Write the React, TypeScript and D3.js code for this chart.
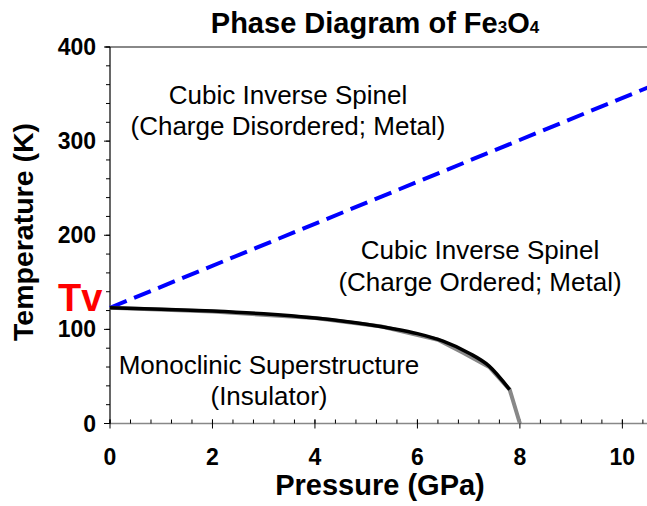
import React from "react";
import * as d3 from "d3";

const xTicks = [0, 2, 4, 6, 8, 10];
const yTicks = [0, 100, 200, 300, 400];
// Dashed boundary (charge disordered / ordered)
const dashedP = [0, 10.5];
const dashedT = [123, 357];
// Gray measured boundary
const grayP = [0, 2, 4, 5.3, 6.4, 6.9, 7.4, 7.8, 8.0];
const grayT = [123, 119, 112, 103, 89, 75, 60, 36, 0];
// Black fitted boundary
const blackP = [0, 1, 2, 3, 4, 5, 5.5, 6, 6.5, 7, 7.4, 7.8];
const blackT = [123, 121.5, 119.5, 116.5, 112, 105.5, 101, 95.5, 87.5, 75, 61, 36];

const W = 647, H = 506;
const font = "'Liberation Sans', Arial, sans-serif";

export default function App() {
  const x = d3.scaleLinear().domain([0, 10.5]).range([110, 648]);
  const y = d3.scaleLinear().domain([0, 400]).range([423.5, 47]);
  const line = d3.line<[number, number]>().x(d => x(d[0])).y(d => y(d[1]));
  const smooth = d3.line<[number, number]>().x(d => x(d[0])).y(d => y(d[1])).curve(d3.curveMonotoneX);
  const xMinor = d3.range(0, 10.5, 0.4);
  const yMinor = d3.range(0, 401, 20);
  return (
    <svg width={W} height={H} style={{ position: "absolute", left: 0, top: 0, background: "#fff" }} fontFamily={font}>
      {/* frame */}
      <line x1={x(0) - 5} x2={W} y1={y(400)} y2={y(400)} stroke="#888" strokeWidth={2} />
      <line x1={x(0)} x2={W} y1={y(0)} y2={y(0)} stroke="#888" strokeWidth={1.5} />
      <line x1={x(0)} x2={x(0)} y1={y(0)} y2={y(400)} stroke="#000" strokeWidth={1.2} />
      {xMinor.map((v, i) => (
        <line key={"xm" + i} x1={x(v)} x2={x(v)} y1={y(0)} y2={y(0) - 4} stroke="#000" strokeWidth={1} />
      ))}
      {xTicks.map(v => (
        <g key={"xt" + v}>
          <line x1={x(v)} x2={x(v)} y1={y(0) - 4} y2={y(0) + 5} stroke="#000" strokeWidth={1} />
          <text x={x(v)} y={465} textAnchor="middle" fontSize={23} fontWeight="bold">{v}</text>
        </g>
      ))}
      {yMinor.map((v, i) => (
        <line key={"ym" + i} x1={x(0) - 4} x2={x(0)} y1={y(v)} y2={y(v)} stroke="#000" strokeWidth={1} />
      ))}
      {yTicks.map(v => (
        <g key={"yt" + v}>
          <line x1={x(0) - 6} x2={x(0)} y1={y(v)} y2={y(v)} stroke="#000" strokeWidth={1} />
          <text x={96} y={y(v) + 8} textAnchor="end" fontSize={23} fontWeight="bold">{v}</text>
        </g>
      ))}
      {/* curves */}
      <path d={line(dashedP.map((p, i) => [p, dashedT[i]]) as [number, number][]) || ""} fill="none" stroke="#0000ff" strokeWidth={4} strokeDasharray="18,8" />
      <path d={line(grayP.map((p, i) => [p, grayT[i]]) as [number, number][]) || ""} fill="none" stroke="#888" strokeWidth={4} />
      <path d={smooth(blackP.map((p, i) => [p, blackT[i]]) as [number, number][]) || ""} fill="none" stroke="#000" strokeWidth={3.5} />
      {/* labels */}
      <text x={288} y={104} textAnchor="middle" fontSize={26}>Cubic Inverse Spinel</text>
      <text x={288} y={135} textAnchor="middle" fontSize={26}>(Charge Disordered; Metal)</text>
      <text x={480} y={259} textAnchor="middle" fontSize={26}>Cubic Inverse Spinel</text>
      <text x={480} y={291} textAnchor="middle" fontSize={26}>(Charge Ordered; Metal)</text>
      <text x={269} y={374} textAnchor="middle" fontSize={26}>Monoclinic Superstructure</text>
      <text x={269} y={405} textAnchor="middle" fontSize={26}>(Insulator)</text>
      <text x={58} y={311} fontSize={38} fontWeight="bold" fill="#ff0000">Tv</text>
      {/* title */}
      <text x={375} y={33} textAnchor="middle" fontSize={29} fontWeight="bold">
        Phase Diagram of Fe<tspan fontSize={17}>3</tspan>O<tspan fontSize={17}>4</tspan>
      </text>
      <text x={380} y={495} textAnchor="middle" fontSize={29} fontWeight="bold">Pressure (GPa)</text>
      <text transform="translate(33,232) rotate(-90)" textAnchor="middle" fontSize={28.5} fontWeight="bold">Temperature (K)</text>
    </svg>
  );
}
